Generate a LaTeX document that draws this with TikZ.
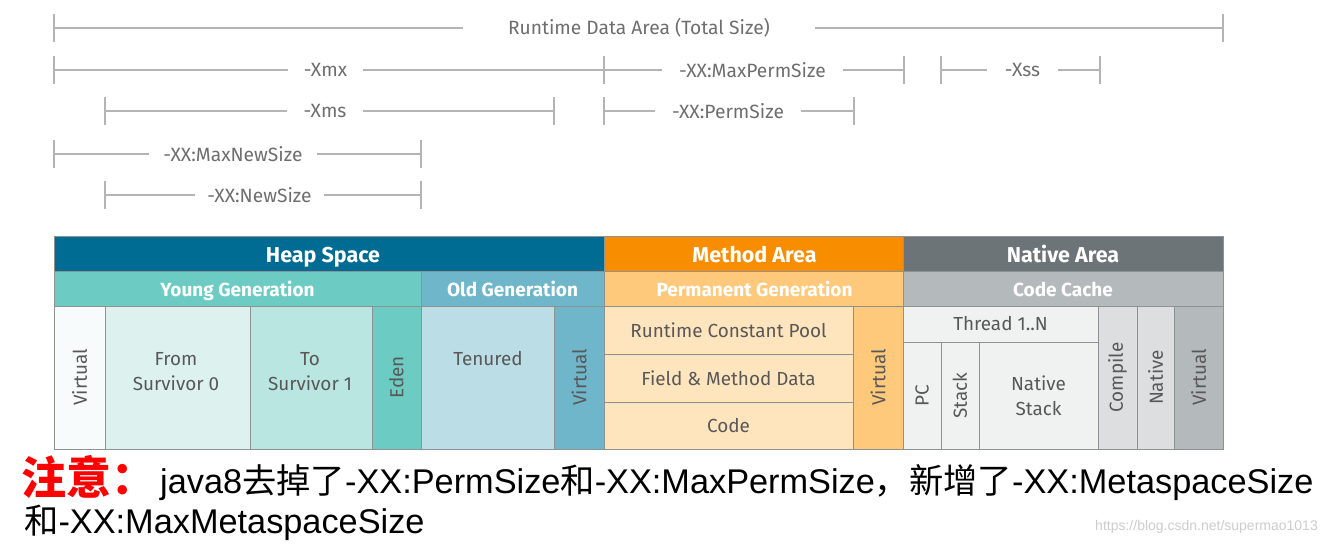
\documentclass[tikz,border=0pt]{standalone}
\usepackage{fontspec}
\usetikzlibrary{calc}
\setmainfont{Liberation Sans}
\newfontfamily\diag{Fira Sans}
\newfontfamily\cjk{Noto Sans CJK SC}
\definecolor{dimgray}{HTML}{B4B4B4}
\definecolor{dimtext}{HTML}{6E6E6E}
\definecolor{bordergray}{HTML}{8E9293}
\definecolor{celltxt}{HTML}{585858}
\definecolor{heapc}{HTML}{006C94}
\definecolor{methodc}{HTML}{F98D00}
\definecolor{nativec}{HTML}{6D7478}
\definecolor{youngc}{HTML}{6CCCC4}
\definecolor{oldc}{HTML}{6FB6CA}
\definecolor{permc}{HTML}{FEC97B}
\definecolor{cachec}{HTML}{B4B9BB}
\definecolor{virtheap}{HTML}{F7FBFC}
\definecolor{fromc}{HTML}{DDF1EF}
\definecolor{toc}{HTML}{B9E6E1}
\definecolor{tenuredc}{HTML}{BBDDE6}
\definecolor{methcell}{HTML}{FFE5BE}
\definecolor{threadc}{HTML}{F0F1F1}
\definecolor{compilec}{HTML}{DCDEDF}
\definecolor{wmark}{HTML}{CDCDCD}
\newcommand\dimfont{\diag\fontsize{19.2}{22}\selectfont}
\newcommand\cellfont{\diag\fontsize{18.9}{25}\selectfont}
\newcommand\headfont{\diag\bfseries\fontsize{21.5}{24}\selectfont}
\newcommand\subfont{\diag\bfseries\fontsize{19}{22}\selectfont}
% name, x1, x2, y, xcenter, gap, text
\newcommand\dimrow[7]{%
  \coordinate (#1-l) at (#2,#4);
  \coordinate (#1-r) at (#3,#4);
  \node[dimlab, inner xsep=#6pt] (#1) at (#5,#4) {#7};
  \draw[dimline] (#1-l) -- (#1.west);
  \draw[dimline] (#1.east) -- (#1-r);
  \draw[tick] ([yshift=14pt]#1-l) -- ([yshift=-14pt]#1-l);
  \draw[tick] ([yshift=14pt]#1-r) -- ([yshift=-14pt]#1-r);
}
% name, x1, y1, x2, y2, fill
\newcommand\cellbox[6]{%
  \path[cell, fill=#6] (#2,#3) rectangle (#4,#5);
  \coordinate (#1) at ($(#2,#3)!0.5!(#4,#5)$);
}
\begin{document}
\begin{tikzpicture}[x=1pt,y=-1pt,
  dimline/.style={draw=dimgray, line width=1.8pt},
  tick/.style={draw=dimgray, line width=1.3pt},
  dimlab/.style={font=\dimfont, text=dimtext, inner ysep=0pt},
  cell/.style={draw=bordergray, line width=1pt},
  ctext/.style={font=\cellfont, text=celltxt, align=center, inner sep=0pt},
  vtext/.style={ctext, rotate=90},
  htext/.style={font=\headfont, text=white, inner sep=0pt, anchor=base},
  stext/.style={font=\subfont, text=white, inner sep=0pt, anchor=base},
]
\fill[white] (0,0) rectangle (1327,544);
\useasboundingbox (0,0) rectangle (1327,544);

% ---- dimension lines ----
\dimrow{rda}{54}{1223}{28}{639}{45}{Runtime Data Area (Total Size)}
\dimrow{xmx}{54}{604}{70}{325.5}{16}{-Xmx}
\dimrow{mps}{604}{904}{70}{752.5}{17}{-XX:MaxPermSize}
\dimrow{xss}{941}{1100}{70}{1022.5}{18}{-Xss}
\dimrow{xms}{105}{554}{111}{325}{16}{-Xms}
\dimrow{ps}{604}{854}{111}{728}{17}{-XX:PermSize}
\dimrow{mns}{54}{421}{154}{233}{14}{-XX:MaxNewSize}
\dimrow{ns}{105}{421}{195}{259.5}{12}{-XX:NewSize}

% ---- header rows ----
\cellbox{heap}{54}{236}{604}{271}{heapc}
\cellbox{meth}{604}{236}{903}{271}{methodc}
\cellbox{nat}{903}{236}{1223}{271}{nativec}
\node[htext] (heapT) at (323,262) {Heap Space};
\node[htext] (methT) at (754.5,262) {Method Area};
\node[htext] (natT) at (1063,262) {Native Area};

\cellbox{young}{54}{271}{421}{306}{youngc}
\cellbox{old}{421}{271}{604}{306}{oldc}
\cellbox{perm}{604}{271}{903}{306}{permc}
\cellbox{cache}{903}{271}{1223}{306}{cachec}
\node[stext] (youngT) at (237.5,296) {Young Generation};
\node[stext] (oldT) at (512.5,296) {Old Generation};
\node[stext] (permT) at (754.5,296) {Permanent Generation};
\node[stext] (cacheT) at (1063,296) {Code Cache};

% ---- heap cells ----
\cellbox{hv}{54}{306}{105}{449}{virtheap}
\cellbox{from}{105}{306}{250}{449}{fromc}
\cellbox{to}{250}{306}{372}{449}{toc}
\cellbox{eden}{372}{306}{421}{449}{youngc}
\cellbox{ten}{421}{306}{554}{449}{tenuredc}
\cellbox{ov}{554}{306}{604}{449}{oldc}
\node[vtext] (hvT) at (hv) {Virtual};
\node[ctext] (fromT) at (176,371.5) {From\\Survivor 0};
\node[ctext] (toT) at (310,371.5) {To\\Survivor 1};
\node[vtext] (edenT) at (eden) {Eden};
\node[ctext, anchor=center] (tenT) at (488,359) {Tenured};
\node[vtext] (ovT) at (ov) {Virtual};

% ---- method area cells ----
\cellbox{rcp}{604}{306}{853}{354}{methcell}
\cellbox{fmd}{604}{354}{853}{402}{methcell}
\cellbox{code}{604}{402}{853}{449}{methcell}
\cellbox{mv}{853}{306}{903}{449}{permc}
\node[ctext] (rcpT) at (rcp) {Runtime Constant Pool};
\node[ctext] (fmdT) at (fmd) {Field \& Method Data};
\node[ctext] (codeT) at (code) {Code};
\node[vtext] (mvT) at (mv) {Virtual};

% ---- native area cells ----
\cellbox{thr}{903}{306}{1098}{342}{threadc}
\cellbox{pc}{903}{342}{941}{449}{threadc}
\cellbox{stk}{941}{342}{979}{449}{threadc}
\cellbox{nstk}{979}{342}{1098}{449}{threadc}
\cellbox{comp}{1098}{306}{1137}{449}{compilec}
\cellbox{natv}{1137}{306}{1174}{449}{compilec}
\cellbox{nv}{1174}{306}{1223}{449}{cachec}
\node[ctext] (thrT) at (thr) {Thread 1..N};
\node[vtext] (pcT) at (pc) {PC};
\node[vtext] (stkT) at (stk) {Stack};
\node[ctext] (nstkT) at (nstk) {Native\\Stack};
\node[vtext] (compT) at (comp) {Compile};
\node[vtext] (natvT) at (natv) {Native};
\node[vtext] (nvT) at (nv) {Virtual};

% ---- note ----
\node[anchor=base west, inner sep=0pt, text=red, font=\cjk\bfseries\fontsize{45}{48}\selectfont] (note) at (21,494) {注意：};
\node[anchor=base west, inner sep=0pt, font=\fontsize{34.3}{38}\selectfont] (line1) at (160,493)
  {java8{\cjk 去掉了}-XX:PermSize{\cjk 和}-XX:MaxPermSize{\cjk ，新增了}-XX:MetaspaceSize};
\node[anchor=base west, inner sep=0pt, font=\fontsize{34.3}{38}\selectfont] (line2) at (24,533)
  {{\cjk 和}-XX:MaxMetaspaceSize};
\node[anchor=base east, inner sep=0pt, text=wmark, font=\fontsize{14}{16}\selectfont] (wm) at (1318,530)
  {https://blog.csdn.net/supermao1013};
\end{tikzpicture}
\end{document}
